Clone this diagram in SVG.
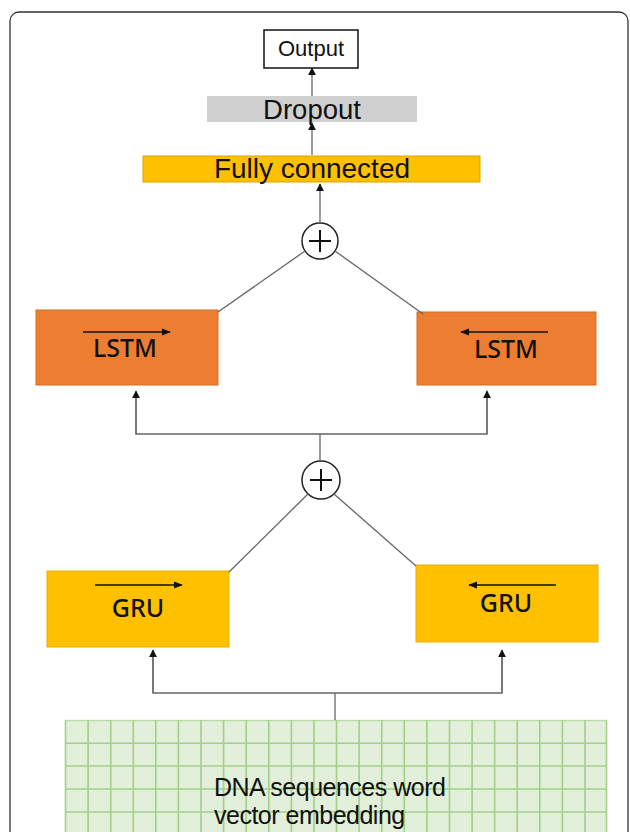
<svg xmlns="http://www.w3.org/2000/svg" width="630" height="832" viewBox="0 0 630 832">
<defs>
<style>
.lbl{font-family:"Liberation Sans",Arial,sans-serif;fill:#111;text-anchor:middle}
.blk{font-family:"Noto Sans","Open Sans",sans-serif;font-weight:500;fill:#111;text-anchor:middle;font-size:25px}
.conn{stroke:#666;stroke-width:1.3;fill:none}
.dir{stroke:#111;stroke-width:1.3;fill:none}
.grid{stroke:#a3cf87;stroke-width:1.6}
</style>
<marker id="ah" viewBox="0 0 10 10" refX="9" refY="5" markerWidth="8" markerHeight="8" markerUnits="userSpaceOnUse" orient="auto">
<path d="M0,0 L10,5 L0,10 z" fill="#111"/>
</marker>
<marker id="ah2" viewBox="0 0 10 10" refX="9" refY="5" markerWidth="9" markerHeight="9" markerUnits="userSpaceOnUse" orient="auto">
<path d="M0,1 L10,5 L0,9 z" fill="#111"/>
</marker>
</defs>
<rect x="0" y="0" width="630" height="832" fill="#fff"/>
<rect x="10" y="12" width="618" height="840" rx="9" fill="none" stroke="#333" stroke-width="1.3"/>

<g id="embedding">
<rect x="65" y="720" width="542" height="120" fill="#e2efda"/>
<g class="grid">
<line x1="65" y1="720.5" x2="607" y2="720.5" stroke-opacity="0.6"/>
<line x1="65" y1="743.3" x2="607" y2="743.3"/>
<line x1="65" y1="766" x2="607" y2="766"/>
<line x1="65" y1="789" x2="607" y2="789"/>
<line x1="65" y1="812" x2="607" y2="812"/>
<line x1="65.5" y1="720" x2="65.5" y2="832"/>
<line x1="88.1" y1="720" x2="88.1" y2="832"/>
<line x1="110.7" y1="720" x2="110.7" y2="832"/>
<line x1="133.3" y1="720" x2="133.3" y2="832"/>
<line x1="155.8" y1="720" x2="155.8" y2="832"/>
<line x1="178.4" y1="720" x2="178.4" y2="832"/>
<line x1="201" y1="720" x2="201" y2="832"/>
<line x1="223.6" y1="720" x2="223.6" y2="832"/>
<line x1="246.2" y1="720" x2="246.2" y2="832"/>
<line x1="268.8" y1="720" x2="268.8" y2="832"/>
<line x1="291.4" y1="720" x2="291.4" y2="832"/>
<line x1="314" y1="720" x2="314" y2="832"/>
<line x1="336.5" y1="720" x2="336.5" y2="832"/>
<line x1="359.1" y1="720" x2="359.1" y2="832"/>
<line x1="381.7" y1="720" x2="381.7" y2="832"/>
<line x1="404.3" y1="720" x2="404.3" y2="832"/>
<line x1="426.9" y1="720" x2="426.9" y2="832"/>
<line x1="449.5" y1="720" x2="449.5" y2="832"/>
<line x1="472.1" y1="720" x2="472.1" y2="832"/>
<line x1="494.6" y1="720" x2="494.6" y2="832"/>
<line x1="517.2" y1="720" x2="517.2" y2="832"/>
<line x1="539.8" y1="720" x2="539.8" y2="832"/>
<line x1="562.4" y1="720" x2="562.4" y2="832"/>
<line x1="585" y1="720" x2="585" y2="832"/>
<line x1="606.5" y1="720" x2="606.5" y2="832"/>
</g>
<text class="lbl" x="214" y="796" font-size="25" style="text-anchor:start" letter-spacing="-0.5">DNA sequences word</text>
<text class="lbl" x="214" y="824" font-size="25" style="text-anchor:start" letter-spacing="-0.5">vector embedding</text>
</g>

<g id="gru-fwd">
<rect x="47" y="571" width="182" height="76" fill="#ffc000" stroke="#e8b000" stroke-width="1"/>
<line class="dir" x1="95" y1="585" x2="182" y2="585" marker-end="url(#ah2)"/>
<text class="blk" x="138" y="617">GRU</text>
</g>
<g id="gru-bwd">
<rect x="416" y="565" width="182" height="77" fill="#ffc000" stroke="#e8b000" stroke-width="1"/>
<line class="dir" x1="556" y1="585" x2="469" y2="585" marker-end="url(#ah2)"/>
<text class="blk" x="506" y="612">GRU</text>
</g>

<g id="lstm-fwd">
<rect x="36" y="310" width="182" height="75" fill="#ed7d31" stroke="#d86d25" stroke-width="1"/>
<line class="dir" x1="83" y1="332" x2="170" y2="332" marker-end="url(#ah2)"/>
<text class="blk" x="125" y="357">LSTM</text>
</g>
<g id="lstm-bwd">
<rect x="417" y="312" width="179" height="73" fill="#ed7d31" stroke="#d86d25" stroke-width="1"/>
<line class="dir" x1="548" y1="332" x2="461" y2="332" marker-end="url(#ah2)"/>
<text class="blk" x="506" y="358">LSTM</text>
</g>

<g id="add-1">
<circle cx="321" cy="480" r="19" fill="#fff" stroke="#222" stroke-width="1.5"/>
<line x1="310" y1="480" x2="332" y2="480" stroke="#111" stroke-width="2"/>
<line x1="321" y1="469" x2="321" y2="491" stroke="#111" stroke-width="2"/>
</g>
<g id="add-2">
<circle cx="320" cy="241" r="18" fill="#fff" stroke="#222" stroke-width="1.5"/>
<line x1="309" y1="241" x2="331" y2="241" stroke="#111" stroke-width="2"/>
<line x1="320" y1="230" x2="320" y2="252" stroke="#111" stroke-width="2"/>
</g>

<g id="fully-connected">
<rect x="143" y="156" width="337" height="26" fill="#ffc000" stroke="#d9a300" stroke-width="1"/>
<text class="lbl" x="312" y="178" font-size="28">Fully connected</text>
</g>
<g id="dropout">
<rect x="207" y="96" width="210" height="26" fill="#d0d0d0"/>
<text class="lbl" x="312" y="119" font-size="27.5">Dropout</text>
</g>
<g id="output">
<rect x="264" y="30" width="94" height="38" fill="#fff" stroke="#111" stroke-width="1.5"/>
<text class="lbl" x="311" y="56" font-size="22">Output</text>
</g>

<g id="connectors">
<line class="conn" x1="335" y1="693" x2="335" y2="720"/>
<polyline class="conn" points="153,651 153,693 502,693 502,651"/>
<line class="conn" x1="153" y1="693" x2="153" y2="650" marker-end="url(#ah)"/>
<line class="conn" x1="502" y1="693" x2="502" y2="650" marker-end="url(#ah)"/>
<line class="conn" x1="308" y1="494" x2="229" y2="572"/>
<line class="conn" x1="334" y1="494" x2="416" y2="566"/>
<line class="conn" x1="320" y1="461" x2="320" y2="434"/>
<polyline class="conn" points="136,392 136,434 487,434 487,392"/>
<line class="conn" x1="136" y1="434" x2="136" y2="391" marker-end="url(#ah)"/>
<line class="conn" x1="487" y1="434" x2="487" y2="391" marker-end="url(#ah)"/>
<line class="conn" x1="305" y1="251" x2="218" y2="312"/>
<line class="conn" x1="335" y1="251" x2="423" y2="314"/>
<line class="conn" x1="320" y1="223" x2="320" y2="184" marker-end="url(#ah)"/>
<line class="conn" x1="312" y1="155" x2="312" y2="123" marker-end="url(#ah)"/>
<line class="conn" x1="312" y1="96" x2="312" y2="68" marker-end="url(#ah)"/>
</g>
</svg>
